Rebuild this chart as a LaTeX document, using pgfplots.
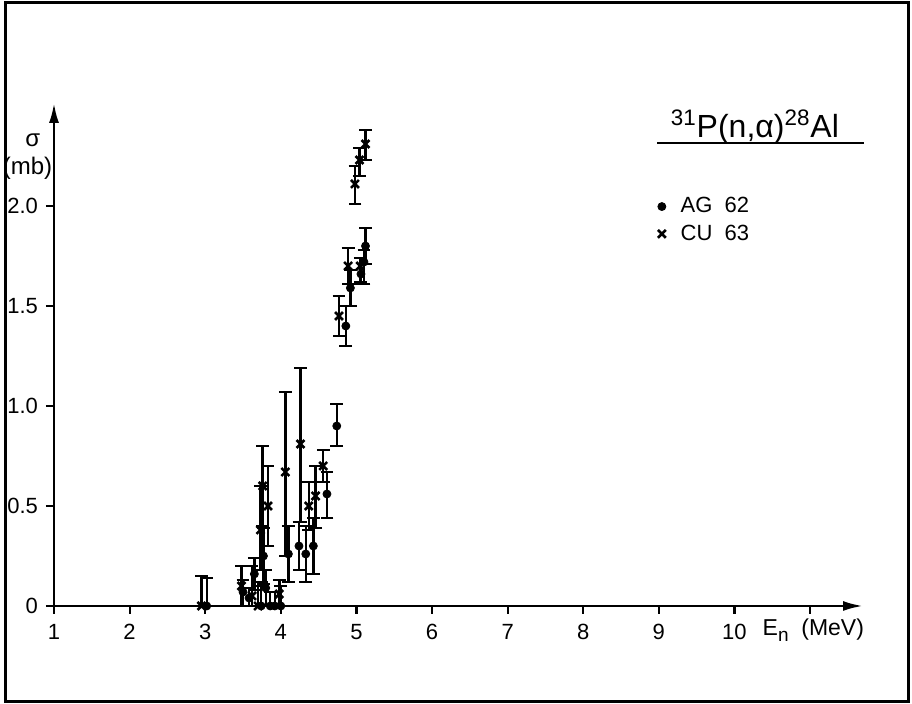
\documentclass[border=0pt]{standalone}
\usepackage{fontspec}
\setmainfont{Liberation Sans}
\usepackage{pgfplots}
\pgfplotsset{compat=1.18}
\usepackage{pgfplotstable}
\usetikzlibrary{arrows.meta}

% AG 62 (dots): x y plus minus
\pgfplotstableread{
x y ep em
3.02 0.00 0.14 0.00
3.50 0.07 0.06 0.07
3.58 0.04 0.05 0.04
3.65 0.16 0.08 0.08
3.74 0.00 0.12 0.00
3.77 0.25 0.14 0.14
3.80 0.09 0.09 0.09
3.86 0.00 0.07 0.00
3.92 0.00 0.07 0.00
4.00 0.00 0.10 0.00
4.10 0.26 0.14 0.14
4.24 0.30 0.12 0.12
4.33 0.26 0.14 0.14
4.43 0.30 0.14 0.14
4.61 0.56 0.11 0.12
4.74 0.90 0.11 0.10
4.86 1.40 0.10 0.10
4.92 1.59 0.09 0.09
5.06 1.66 0.08 0.05
5.10 1.72 0.06 0.11
5.12 1.80 0.09 0.09
}\agdata

% CU 63 (crosses)
\pgfplotstableread{
x y ep em
2.95 0.00 0.15 0.00
3.48 0.10 0.10 0.10
3.62 0.05 0.15 0.05
3.70 0.00 0.10 0.00
3.73 0.38 0.22 0.20
3.76 0.60 0.20 0.20
3.83 0.50 0.20 0.20
3.98 0.06 0.07 0.06
4.06 0.67 0.40 0.42
4.26 0.81 0.38 0.39
4.37 0.50 0.12 0.12
4.46 0.55 0.15 0.16
4.56 0.70 0.08 0.08
4.77 1.45 0.10 0.10
4.89 1.70 0.09 0.09
4.98 2.11 0.09 0.10
5.05 1.70 0.04 0.08
5.04 2.23 0.06 0.08
5.12 2.31 0.07 0.08
}\cudata

\begin{document}
\begin{tikzpicture}
\useasboundingbox (0,0) rectangle (456pt,352pt);
\draw[line width=1.5pt] (2.5pt,1pt) rectangle (454pt,350.5pt);
\begin{axis}[
  at={(27pt,49pt)}, anchor=south west,
  scale only axis, width=404.5pt, height=251.5pt,
  xmin=1, xmax=11.7, ymin=0, ymax=2.515,
  axis lines=left,
  axis line style={line width=1.3pt},
  x axis line style={-{Latex[length=10pt,width=5pt]}},
  y axis line style={-{Latex[length=10pt,width=5pt]}},
  xtick={1,2,3,4,5,6,7,8,9,10,11},
  xticklabels={1,2,3,4,5,6,7,8,9,10,{}},
  ytick={0,0.5,1,1.5,2},
  yticklabels={0,0.5,1.0,1.5,2.0},
  tick align=outside,
  major tick length=4pt,
  tick style={line width=1.1pt, black},
  /pgf/number format/assume math mode=true,
  tick label style={font=\fontsize{11}{13}\selectfont},
  xticklabel style={yshift=-1.5pt},
  yticklabel style={xshift=-0.5pt},
  clip=false,
  legend style={draw=none, fill=none, at={(axis cs:8.88,2.085)}, anchor=north west,
    font=\fontsize{11}{13}\selectfont, row sep=0.5pt},
  legend cell align=left,
  legend image code/.code={\path[draw=none] (0cm,0cm) -- (0.36cm,0cm);
    \draw[#1, only marks] plot coordinates {(0.1cm,0cm)};},
]
\addplot[only marks, mark=*, mark size=2pt, black,
  error bars/.cd, y dir=both, y explicit,
  error bar style={line width=1.2pt},
  error mark options={rotate=90, mark size=3.2pt, line width=1.2pt}]
  table[x=x, y=y, y error plus=ep, y error minus=em] {\agdata};
\addlegendentry{AG\ \ 62}
\addplot[only marks, mark=x, mark size=2.8pt, black, mark options={line width=1.3pt},
  error bars/.cd, y dir=both, y explicit,
  error bar style={line width=1.2pt},
  error mark options={rotate=90, mark size=3.2pt, line width=1.2pt}]
  table[x=x, y=y, y error plus=ep, y error minus=em] {\cudata};
\addlegendentry{CU\ \ 63}

\node[anchor=base, font=\fontsize{16}{18}\selectfont] at (axis cs:10.27,2.34)
  {\textsuperscript{31}P(n,α)\textsuperscript{28}Al};
\draw[line width=1.3pt] (axis cs:8.98,2.315) -- (axis cs:11.71,2.315);

\node[font=\fontsize{12}{14}\selectfont] at (axis cs:0.72,2.33) {σ};
\node[font=\fontsize{12}{14}\selectfont] at (axis cs:0.65,2.19) {(mb)};
\node[anchor=west, font=\fontsize{11.5}{14}\selectfont] at (axis cs:10.28,-0.12)
  {E\raisebox{-0.5ex}{\fontsize{9.5}{11}\selectfont n}\ \ (MeV)};
\end{axis}
\end{tikzpicture}
\end{document}
